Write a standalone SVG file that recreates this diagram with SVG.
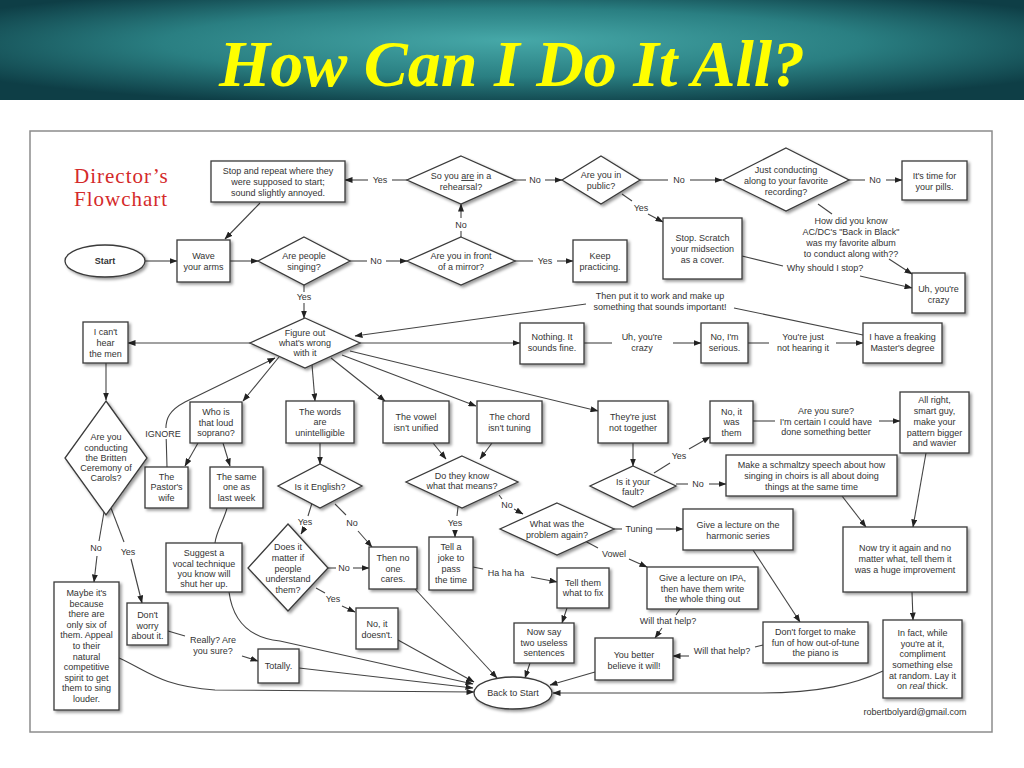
<svg xmlns="http://www.w3.org/2000/svg" width="1024" height="768" viewBox="0 0 1024 768">
<defs>
<radialGradient id="hdr" cx="50%" cy="45%" r="62%" fx="50%" fy="40%">
<stop offset="0" stop-color="#46a8a8"/>
<stop offset="0.55" stop-color="#2a7f82"/>
<stop offset="1" stop-color="#0e3e46"/>
</radialGradient>
<filter id="sh" x="-20%" y="-20%" width="150%" height="150%">
<feDropShadow dx="2" dy="2" stdDeviation="1.4" flood-color="#000" flood-opacity="0.4"/>
</filter>
<marker id="ah" viewBox="0 0 8 6" markerWidth="8" markerHeight="6" refX="7.5" refY="3" orient="auto" markerUnits="userSpaceOnUse">
<path d="M0,0 L8,3 L0,6 z" fill="#222"/>
</marker>
</defs>
<style>
.bx{fill:#fff;stroke:#3a3a3a;stroke-width:1.3;filter:url(#sh)}
.t{font-family:"Liberation Sans",Arial,sans-serif;font-size:9px;fill:#333;text-anchor:middle}
.l{font-family:"Liberation Sans",Arial,sans-serif;font-size:9px;fill:#333;text-anchor:middle}
.c{fill:none;stroke:#444;stroke-width:1.1}
.a{marker-end:url(#ah)}
</style>
<rect x="0" y="0" width="1024" height="768" fill="#fff"/>
<rect x="0" y="0" width="1024" height="100" fill="url(#hdr)"/>
<text x="512" y="86" font-family="'Liberation Serif','Times New Roman',serif" font-size="66" font-weight="bold" font-style="italic" fill="#ffff00" text-anchor="middle">How Can I Do It All?</text>
<rect x="30" y="131" width="962" height="601" fill="#fff" stroke="#8c8c8c" stroke-width="1.5"/>
<g id="heading">
<text x="74" y="183" font-family="'Liberation Serif','Times New Roman',serif" font-size="21" letter-spacing="1" fill="#d42a2a">Director’s</text>
<text x="74" y="206" font-family="'Liberation Serif','Times New Roman',serif" font-size="21" letter-spacing="1" fill="#d42a2a">Flowchart</text>
</g>

<g id="connectors">
<path class="c a" d="M145,261 L177,261"/>
<path class="c a" d="M230,261 L258,261"/>
<path class="c" d="M350,261 L367,261"/><path class="c a" d="M386,261 L407,261"/>
<text class="l" x="376" y="264">No</text>
<path class="c" d="M461,237 L461,231"/><path class="c a" d="M461,218 L461,204"/>
<text class="l" x="461" y="228">No</text>
<path class="c" d="M515,261 L533,261"/><path class="c a" d="M557,261 L573,261"/>
<text class="l" x="545" y="264">Yes</text>
<path class="c" d="M407,180 L392,180"/><path class="c a" d="M368,180 L345,180"/>
<text class="l" x="380" y="183">Yes</text>
<path class="c" d="M515,180 L526,180"/><path class="c a" d="M545,180 L562,180"/>
<text class="l" x="535" y="183">No</text>
<path class="c" d="M640,180 L668,180"/><path class="c a" d="M690,180 L722,180"/>
<text class="l" x="679" y="183">No</text>
<path class="c" d="M622,194 L632,201"/><path class="c a" d="M648,214 L663,222"/>
<text class="l" x="641" y="211">Yes</text>
<path class="c" d="M849,180 L865,180"/><path class="c a" d="M886,180 L902,180"/>
<text class="l" x="875" y="183">No</text>
<path class="c" d="M818,204 L832,214"/><path class="c a" d="M889,259 L912,274"/>
<text class="l" x="851" y="224">How did you know</text>
<text class="l" x="851" y="235">AC/DC's "Back in Black"</text>
<text class="l" x="851" y="246">was my favorite album</text>
<text class="l" x="851" y="257">to conduct along with??</text>
<path class="c" d="M742,256 L783,266"/><path class="c a" d="M860,276 L912,288"/>
<text class="l" x="825" y="271">Why should I stop?</text>
<path class="c a" d="M260,203 L225,239"/>
<path class="c" d="M304,285 L304,292"/><path class="c a" d="M304,303 L304,318"/>
<text class="l" x="304" y="300">Yes</text>
<path class="c" d="M863,335 L734,308"/><path class="c a" d="M586,304 L355,336"/>
<text class="l" x="660" y="299">Then put it to work and make up</text>
<text class="l" x="660" y="310">something that sounds important!</text>
<path class="c a" d="M360,343 L520,343"/>
<path class="c" d="M584,343 L612,343"/><path class="c a" d="M673,343 L701,343"/>
<text class="l" x="642" y="340">Uh, you're</text>
<text class="l" x="642" y="351">crazy</text>
<path class="c" d="M748,343 L769,343"/><path class="c a" d="M836,343 L863,343"/>
<text class="l" x="803" y="340">You're just</text>
<text class="l" x="803" y="351">not hearing it</text>
<path class="c a" d="M250,343 L128,343"/>
<path class="c a" d="M106,363 L106,400"/>
<path class="c a" d="M279,357 L243,401"/>
<path class="c a" d="M167,467 L166,432 C165,418 170,410 185,402 L275,358"/>
<rect x="143" y="428" width="40" height="11" fill="#fff"/>
<text class="l" x="163" y="436.5" font-size="9.5">IGNORE</text>
<path class="c a" d="M198,443 L185,466"/>
<path class="c a" d="M223,443 L230,466"/>
<path class="c" d="M227,508 C224,520 216,532 215,543"/>
<path class="c" d="M104,512 L99,541"/><path class="c a" d="M97,556 L94,582"/>
<text class="l" x="96" y="551">No</text>
<path class="c" d="M111,508 L124,542"/><path class="c a" d="M131,559 L142,603"/>
<text class="l" x="128" y="555">Yes</text>
<path class="c" d="M168,631 L185,636"/><path class="c a" d="M242,656 L258,661"/>
<text class="l" x="213" y="643">Really? Are</text>
<text class="l" x="213" y="654">you sure?</text>
<path class="c a" d="M119,658 C148,671 160,686 215,690 L474,692"/>
<path class="c a" d="M229,592 C233,622 250,638 280,641 L473,684"/>
<path class="c a" d="M299,668 L473,688"/>
<path class="c a" d="M398,640 L474,682"/>
<path class="c a" d="M415,589 L497,678"/>
<path class="c a" d="M312,365 L315,401"/>
<path class="c a" d="M331,358 L385,401"/>
<path class="c a" d="M342,355 L476,406"/>
<path class="c a" d="M350,351 L598,411"/>
<path class="c a" d="M320,443 L320,464"/>
<path class="c a" d="M433,443 L446,459"/>
<path class="c a" d="M492,443 L480,459"/>
<path class="c" d="M312,503 L308,516"/><path class="c a" d="M304,529 L301,534"/>
<text class="l" x="305" y="525">Yes</text>
<path class="c" d="M335,504 L346,515"/><path class="c a" d="M358,531 L372,547"/>
<text class="l" x="352" y="526">No</text>
<path class="c" d="M328,568 L336,568"/><path class="c a" d="M353,568 L369,568"/>
<text class="l" x="344" y="571">No</text>
<path class="c" d="M316,588 L325,593"/><path class="c a" d="M342,606 L355,612"/>
<text class="l" x="333" y="602">Yes</text>
<path class="c" d="M458,507 L457,516"/><path class="c a" d="M455,530 L455,537"/>
<text class="l" x="455" y="526">Yes</text>
<path class="c" d="M499,495 L502,499"/><path class="c a" d="M514,509 L523,514"/>
<text class="l" x="507" y="508">No</text>
<path class="c" d="M473,567 L483,569"/><path class="c a" d="M531,577 L557,582"/>
<text class="l" x="506" y="576">Ha ha ha</text>
<path class="c a" d="M567,608 L562,623"/>
<path class="c a" d="M530,663 L525,678"/>
<path class="c" d="M614,529 L622,529"/><path class="c a" d="M656,529 L683,529"/>
<text class="l" x="639" y="532">Tuning</text>
<path class="c" d="M585,541 L598,548"/><path class="c a" d="M629,559 L647,567"/>
<text class="l" x="614" y="557">Vowel</text>
<path class="c" d="M680,609 L676,615"/><path class="c a" d="M662,628 L655,638"/>
<text class="l" x="668" y="624">Will that help?</text>
<path class="c" d="M763,645 L755,647"/><path class="c a" d="M689,656 L673,656"/>
<text class="l" x="722" y="654">Will that help?</text>
<path class="c a" d="M595,672 L550,685"/>
<path class="c a" d="M753,550 L800,622"/>
<path class="c a" d="M842,496 L866,527"/>
<path class="c a" d="M926,453 L913,527"/>
<path class="c a" d="M912,592 L913,620"/>
<path class="c a" d="M883,671 C855,684 820,693 760,693 L553,693"/>
<path class="c a" d="M633,443 L633,466"/>
<path class="c" d="M654,473 L670,463"/><path class="c a" d="M689,449 L710,437"/>
<text class="l" x="679" y="459">Yes</text>
<path class="c" d="M676,484 L688,484"/><path class="c a" d="M709,484 L726,484"/>
<text class="l" x="698" y="487">No</text>
<path class="c" d="M753,421 L775,421"/><path class="c a" d="M879,421 L900,421"/>
<text class="l" x="826" y="414">Are you sure?</text>
<text class="l" x="826" y="425">I'm certain I could have</text>
<text class="l" x="826" y="435">done something better</text>
</g>

<g id="start"><ellipse class="bx" cx="105" cy="261" rx="40" ry="16"/><text class="t" x="105" y="264" font-weight="bold">Start</text></g>
<g id="wave"><rect class="bx" x="177" y="240" width="53" height="42"/><text class="t" x="203.5" y="259">Wave</text><text class="t" x="203.5" y="270">your arms</text></g>
<g id="stoprepeat"><rect class="bx" x="211" y="161" width="134" height="41"/><text class="t" x="278" y="174">Stop and repeat where they</text><text class="t" x="278" y="185">were supposed to start;</text><text class="t" x="278" y="196">sound slightly annoyed.</text></g>
<g id="rehearsal"><path class="bx" d="M461,156 L515,180 L461,204 L407,180 z"/><text class="t" x="461" y="179">So you <tspan text-decoration="underline">are</tspan> in a</text><text class="t" x="461" y="190">rehearsal?</text></g>
<g id="public"><path class="bx" d="M601,156 L640,180 L601,204 L562,180 z"/><text class="t" x="601" y="178">Are you in</text><text class="t" x="601" y="189">public?</text></g>
<g id="justconducting"><path class="bx" d="M786,148 L849,180 L786,211 L723,180 z"/><text class="t" x="786" y="173">Just conducting</text><text class="t" x="786" y="184">along to your favorite</text><text class="t" x="786" y="195">recording?</text></g>
<g id="pills"><rect class="bx" x="902" y="161" width="65" height="39"/><text class="t" x="934.5" y="179">It's time for</text><text class="t" x="934.5" y="190">your pills.</text></g>
<g id="singing"><path class="bx" d="M304,237 L350,261 L304,285 L258,261 z"/><text class="t" x="304" y="259">Are people</text><text class="t" x="304" y="270">singing?</text></g>
<g id="mirror"><path class="bx" d="M461,237 L515,261 L461,285 L407,261 z"/><text class="t" x="461" y="259">Are you in front</text><text class="t" x="461" y="270">of a mirror?</text></g>
<g id="keep"><rect class="bx" x="573" y="240" width="54" height="42"/><text class="t" x="600" y="259">Keep</text><text class="t" x="600" y="270">practicing.</text></g>
<g id="scratch"><rect class="bx" x="663" y="218" width="79" height="61"/><text class="t" x="702.5" y="241">Stop. Scratch</text><text class="t" x="702.5" y="252">your midsection</text><text class="t" x="702.5" y="263">as a cover.</text></g>
<g id="uhcrazy"><rect class="bx" x="912" y="273" width="53" height="40"/><text class="t" x="938.5" y="292">Uh, you're</text><text class="t" x="938.5" y="303">crazy</text></g>
<g id="figure"><path class="bx" d="M305,318 L360,343 L305,368 L250,343 z"/><text class="t" x="305" y="336">Figure out</text><text class="t" x="305" y="346">what's wrong</text><text class="t" x="305" y="356">with it</text></g>
<g id="canthear"><rect class="bx" x="83" y="322" width="45" height="41"/><text class="t" x="105.5" y="335">I can't</text><text class="t" x="105.5" y="346">hear</text><text class="t" x="105.5" y="357">the men</text></g>
<g id="nothing"><rect class="bx" x="520" y="323" width="64" height="41"/><text class="t" x="552" y="340">Nothing. It</text><text class="t" x="552" y="351">sounds fine.</text></g>
<g id="serious"><rect class="bx" x="701" y="323" width="47" height="40"/><text class="t" x="724.5" y="340">No, I'm</text><text class="t" x="724.5" y="351">serious.</text></g>
<g id="master"><rect class="bx" x="863" y="323" width="79" height="40"/><text class="t" x="902.5" y="340">I have a freaking</text><text class="t" x="902.5" y="351">Master's degree</text></g>
<g id="soprano"><rect class="bx" x="190" y="402" width="52" height="41"/><text class="t" x="216" y="415">Who is</text><text class="t" x="216" y="426">that loud</text><text class="t" x="216" y="436">soprano?</text></g>
<g id="pastor"><rect class="bx" x="145" y="467" width="43" height="41"/><text class="t" x="166.5" y="480">The</text><text class="t" x="166.5" y="490">Pastor's</text><text class="t" x="166.5" y="501">wife</text></g>
<g id="sameone"><rect class="bx" x="210" y="467" width="53" height="41"/><text class="t" x="236.5" y="480">The same</text><text class="t" x="236.5" y="490">one as</text><text class="t" x="236.5" y="501">last week</text></g>
<g id="britten"><path class="bx" d="M106,401 L147,458 L106,515 L65,458 z"/><text class="t" x="106" y="440">Are you</text><text class="t" x="106" y="450.5">conducting</text><text class="t" x="106" y="461">the Britten</text><text class="t" x="106" y="471">Ceremony of</text><text class="t" x="106" y="481">Carols?</text></g>
<g id="words"><rect class="bx" x="286" y="401" width="68" height="42"/><text class="t" x="320" y="415">The words</text><text class="t" x="320" y="425">are</text><text class="t" x="320" y="436">unintelligible</text></g>
<g id="vowel"><rect class="bx" x="383" y="401" width="66" height="42"/><text class="t" x="416" y="420">The vowel</text><text class="t" x="416" y="431">isn't unified</text></g>
<g id="chord"><rect class="bx" x="477" y="401" width="65" height="42"/><text class="t" x="509.5" y="420">The chord</text><text class="t" x="509.5" y="431">isn't tuning</text></g>
<g id="together"><rect class="bx" x="598" y="401" width="70" height="42"/><text class="t" x="633" y="420">They're just</text><text class="t" x="633" y="431">not together</text></g>
<g id="wasthem"><rect class="bx" x="710" y="401" width="43" height="42"/><text class="t" x="731.5" y="415">No, it</text><text class="t" x="731.5" y="425">was</text><text class="t" x="731.5" y="436">them</text></g>
<g id="allright"><rect class="bx" x="900" y="392" width="69" height="61"/><text class="t" x="934.5" y="403">All right,</text><text class="t" x="934.5" y="414">smart guy,</text><text class="t" x="934.5" y="425">make your</text><text class="t" x="934.5" y="435.5">pattern bigger</text><text class="t" x="934.5" y="446">and wavier</text></g>
<g id="schmaltzy"><rect class="bx" x="726" y="455" width="171" height="41"/><text class="t" x="811.5" y="468">Make a schmaltzy speech about how</text><text class="t" x="811.5" y="479">singing in choirs is all about doing</text><text class="t" x="811.5" y="489.5">things at the same time</text></g>
<g id="fault"><path class="bx" d="M633,466 L676,486 L633,507 L590,486 z"/><text class="t" x="633" y="485">Is it your</text><text class="t" x="633" y="495">fault?</text></g>
<g id="english"><path class="bx" d="M320,464 L362,486 L320,508 L278,486 z"/><text class="t" x="320" y="490">Is it English?</text></g>
<g id="doknow"><path class="bx" d="M462,456 L518,482 L462,508 L406,482 z"/><text class="t" x="462" y="479">Do they know</text><text class="t" x="462" y="489">what that means?</text></g>
<g id="problem"><path class="bx" d="M557,503 L614,529 L557,555 L500,529 z"/><text class="t" x="557" y="527">What was the</text><text class="t" x="557" y="537.5">problem again?</text></g>
<g id="harmonic"><rect class="bx" x="683" y="509" width="110" height="41"/><text class="t" x="738" y="528">Give a lecture on the</text><text class="t" x="738" y="539">harmonic series</text></g>
<g id="ipa"><rect class="bx" x="647" y="567" width="111" height="42"/><text class="t" x="702.5" y="581">Give a lecture on IPA,</text><text class="t" x="702.5" y="592">then have them write</text><text class="t" x="702.5" y="602">the whole thing out</text></g>
<g id="nowtry"><rect class="bx" x="843" y="527" width="124" height="65"/><text class="t" x="905" y="551">Now try it again and no</text><text class="t" x="905" y="562">matter what, tell them it</text><text class="t" x="905" y="573">was a huge improvement</text></g>
<g id="dontforget"><rect class="bx" x="763" y="622" width="105" height="41"/><text class="t" x="815.5" y="635">Don't forget to make</text><text class="t" x="815.5" y="646">fun of how out-of-tune</text><text class="t" x="815.5" y="656">the piano is</text></g>
<g id="infact"><rect class="bx" x="883" y="620" width="79" height="78"/><text class="t" x="922.5" y="636">In fact, while</text><text class="t" x="922.5" y="646.5">you're at it,</text><text class="t" x="922.5" y="657">compliment</text><text class="t" x="922.5" y="668">something else</text><text class="t" x="922.5" y="678.5">at random. Lay it</text><text class="t" x="922.5" y="689">on <tspan font-style="italic">real</tspan> thick.</text></g>
<g id="tellthem"><rect class="bx" x="557" y="568" width="52" height="40"/><text class="t" x="583" y="586">Tell them</text><text class="t" x="583" y="596">what to fix</text></g>
<g id="nowsay"><rect class="bx" x="514" y="623" width="60" height="40"/><text class="t" x="544" y="635">Now say</text><text class="t" x="544" y="646">two useless</text><text class="t" x="544" y="656">sentences</text></g>
<g id="better"><rect class="bx" x="595" y="638" width="78" height="42"/><text class="t" x="634" y="658">You better</text><text class="t" x="634" y="669">believe it will!</text></g>
<g id="backtostart"><ellipse class="bx" cx="513" cy="693" rx="39" ry="16"/><text class="t" x="513" y="696">Back to Start</text></g>
<g id="joke"><rect class="bx" x="429" y="537" width="44" height="53"/><text class="t" x="451" y="550">Tell a</text><text class="t" x="451" y="561">joke to</text><text class="t" x="451" y="572">pass</text><text class="t" x="451" y="583">the time</text></g>
<g id="nocares"><rect class="bx" x="369" y="547" width="48" height="42"/><text class="t" x="393" y="561">Then no</text><text class="t" x="393" y="572">one</text><text class="t" x="393" y="582">cares.</text></g>
<g id="doesnt"><rect class="bx" x="356" y="608" width="42" height="41"/><text class="t" x="377" y="627">No, it</text><text class="t" x="377" y="638">doesn't.</text></g>
<g id="matter"><path class="bx" d="M288,524 L328,568 L288,611 L248,568 z"/><text class="t" x="288" y="550">Does it</text><text class="t" x="288" y="561">matter if</text><text class="t" x="288" y="571.5">people</text><text class="t" x="288" y="582">understand</text><text class="t" x="288" y="593">them?</text></g>
<g id="suggest"><rect class="bx" x="166" y="543" width="76" height="49"/><text class="t" x="204" y="556">Suggest a</text><text class="t" x="204" y="566.5">vocal technique</text><text class="t" x="204" y="577">you know will</text><text class="t" x="204" y="587">shut her up.</text></g>
<g id="totally"><rect class="bx" x="258" y="649" width="41" height="34"/><text class="t" x="278.5" y="669">Totally.</text></g>
<g id="dontworry"><rect class="bx" x="127" y="603" width="41" height="42"/><text class="t" x="147.5" y="618">Don't</text><text class="t" x="147.5" y="629">worry</text><text class="t" x="147.5" y="639">about it.</text></g>
<g id="maybe"><rect class="bx" x="54" y="582" width="65" height="128"/><text class="t" x="86.5" y="596">Maybe it's</text><text class="t" x="86.5" y="606.6">because</text><text class="t" x="86.5" y="617.2">there are</text><text class="t" x="86.5" y="627.8">only six of</text><text class="t" x="86.5" y="638.4">them. Appeal</text><text class="t" x="86.5" y="649">to their</text><text class="t" x="86.5" y="659.6">natural</text><text class="t" x="86.5" y="670.2">competitive</text><text class="t" x="86.5" y="680.8">spirit to get</text><text class="t" x="86.5" y="691.4">them to sing</text><text class="t" x="86.5" y="702">louder.</text></g>
<text class="t" x="915" y="715" font-size="8.5">robertbolyard@gmail.com</text>
</svg>
